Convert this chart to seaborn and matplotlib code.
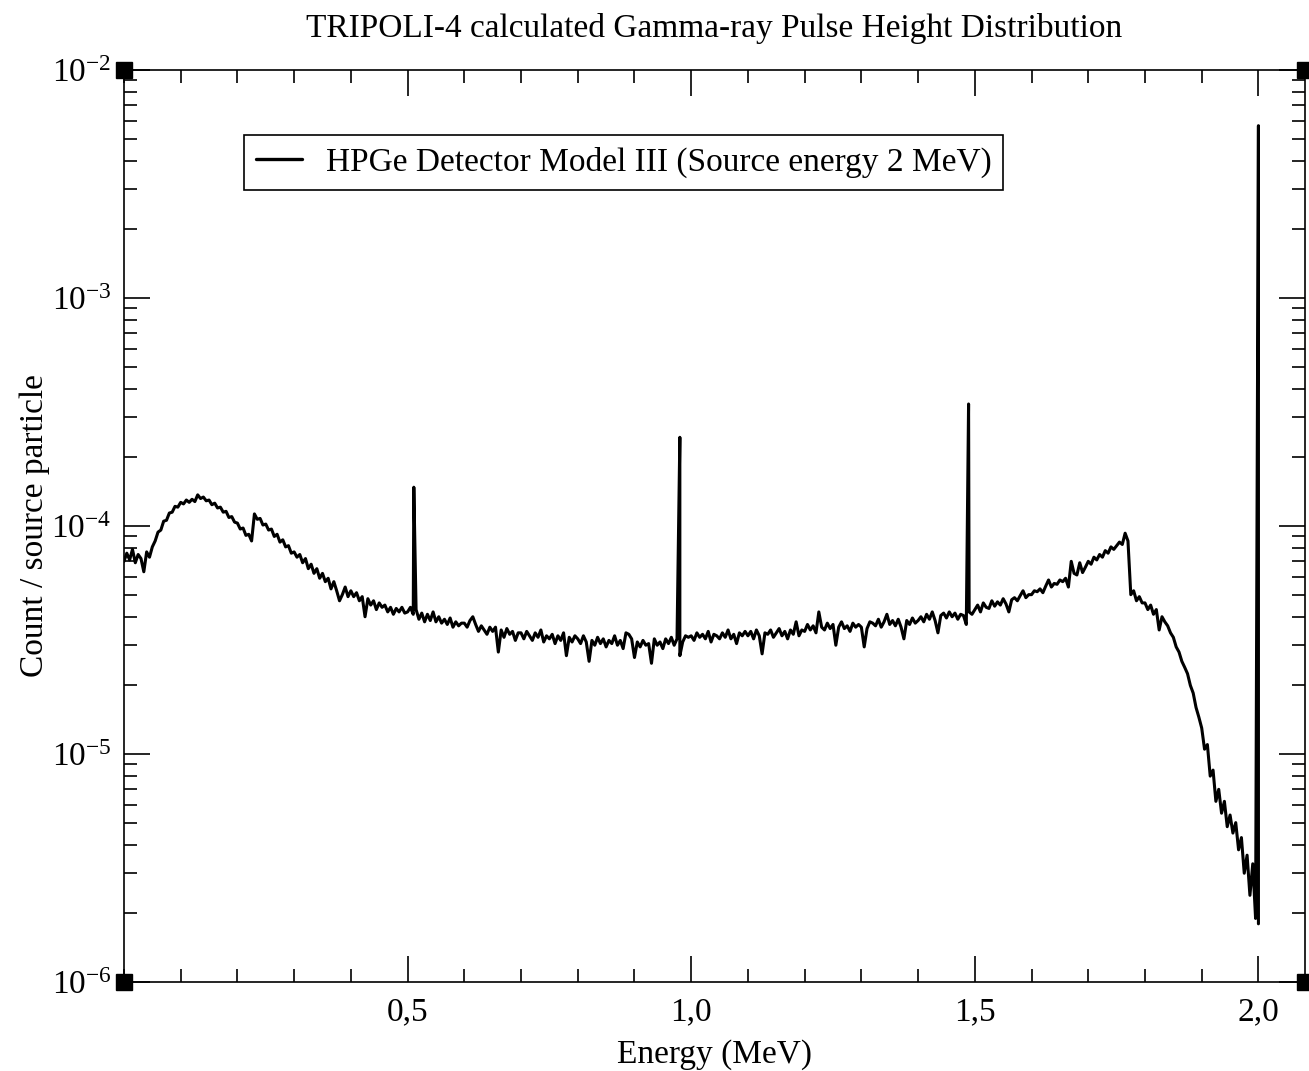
import numpy as np
import pandas as pd
import matplotlib
matplotlib.use("Agg")
import matplotlib.pyplot as plt
import seaborn as sns
from matplotlib.ticker import FixedLocator, FixedFormatter, MultipleLocator, LogLocator, NullFormatter

# ---------------- data ----------------
energy_step = 0.005  # MeV per channel of the tabulated continuum
# Continuum count per source particle, in units of 1e-5, every 5 keV from 0 to 2.0 MeV
count_e5 = [
    # 0.000 - 0.095
    7.0, 7.6, 7.1, 7.9, 6.9, 7.5, 7.2, 6.3, 7.7, 7.3, 8.1, 8.6, 9.4, 9.6, 10.5, 10.6, 11.4, 11.5, 12.2, 12.1,
    # 0.100 - 0.195
    12.7, 12.5, 13.0, 12.7, 13.1, 12.8, 13.7, 13.2, 13.4, 12.9, 13.0, 12.4, 12.6, 12.0, 12.1, 11.5, 11.6, 10.9, 11.0, 10.4,
    # 0.200 - 0.295
    10.3, 9.7, 9.8, 9.1, 9.2, 8.6, 11.3, 10.7, 10.8, 10.1, 10.2, 9.6, 9.7, 9.0, 9.2, 8.5, 8.7, 8.1, 8.2, 7.6,
    # 0.300 - 0.395
    7.7, 7.3, 7.5, 6.9, 7.2, 6.5, 6.8, 6.2, 6.5, 5.9, 6.2, 5.7, 5.9, 5.3, 5.7, 5.2, 4.7, 5.0, 5.4, 4.9,
    # 0.400 - 0.495
    5.2, 4.9, 5.1, 4.7, 4.9, 4.0, 4.8, 4.5, 4.7, 4.3, 4.6, 4.4, 4.5, 4.2, 4.4, 4.1, 4.35, 4.2, 4.4, 4.15,
    # 0.500 - 0.595
    4.2, 4.4, 4.1, 4.3, 3.9, 4.15, 3.8, 4.1, 3.85, 4.2, 3.8, 4.0, 3.75, 3.9, 3.7, 3.95, 3.6, 3.8, 3.65, 3.75,
    # 0.600 - 0.695
    3.75, 3.6, 3.85, 4.0, 3.7, 3.45, 3.65, 3.5, 3.35, 3.6, 3.45, 3.6, 2.8, 3.5, 3.25, 3.55, 3.35, 3.45, 3.15, 3.4,
    # 0.700 - 0.795
    3.4, 3.2, 3.45, 3.3, 3.15, 3.4, 3.25, 3.5, 3.1, 3.3, 3.2, 3.35, 3.05, 3.3, 3.15, 3.4, 2.7, 3.25, 3.1, 3.3,
    # 0.800 - 0.895
    3.2, 3.05, 3.3, 3.1, 2.55, 3.15, 3.0, 3.25, 3.05, 3.2, 2.95, 3.15, 3.05, 3.3, 3.0, 3.15, 2.9, 3.4, 3.35, 3.2,
    # 0.900 - 0.995
    2.65, 3.1, 2.95, 3.15, 3.0, 3.05, 2.5, 3.2, 3.0, 3.1, 2.9, 3.2, 3.05, 3.25, 3.0, 3.2, 2.7, 3.1, 3.3, 3.25,
    # 1.000 - 1.095
    3.3, 3.15, 3.4, 3.25, 3.35, 3.2, 3.45, 3.1, 3.35, 3.3, 3.2, 3.4, 3.25, 3.5, 3.2, 3.35, 3.05, 3.4, 3.3, 3.45,
    # 1.100 - 1.195
    3.3, 3.45, 3.2, 3.5, 3.3, 2.75, 3.4, 3.35, 3.5, 3.25, 3.4, 3.55, 3.3, 3.45, 3.2, 3.5, 3.35, 3.8, 3.3, 3.5,
    # 1.200 - 1.295
    3.45, 3.7, 3.5, 3.65, 3.4, 4.2, 3.6, 3.5, 3.75, 3.55, 3.7, 3.0, 3.6, 3.8, 3.55, 3.65, 3.45, 3.75, 3.6, 3.7,
    # 1.300 - 1.395
    3.6, 2.95, 3.55, 3.8, 3.75, 3.65, 3.9, 3.6, 3.8, 4.1, 3.7, 3.85, 3.65, 3.9, 3.6, 3.2, 3.85, 3.7, 3.95, 3.75,
    # 1.400 - 1.495
    3.85, 4.0, 3.8, 4.1, 3.9, 4.2, 3.85, 3.4, 4.05, 4.15, 3.95, 4.2, 4.0, 4.15, 3.9, 4.1, 4.05, 3.7, 4.2, 4.1,
    # 1.500 - 1.595
    4.3, 4.5, 4.2, 4.6, 4.4, 4.35, 4.7, 4.45, 4.65, 4.5, 4.8, 4.55, 4.2, 4.75, 4.85, 4.7, 4.95, 5.2, 4.85, 5.0,
    # 1.600 - 1.695
    5.0, 5.2, 5.15, 5.3, 5.1, 5.45, 5.8, 5.4, 5.6, 5.55, 5.8, 5.7, 5.9, 5.4, 7.0, 6.2, 6.1, 6.9, 6.25, 6.6,
    # 1.700 - 1.795
    7.0, 6.8, 7.3, 7.1, 7.5, 7.3, 7.8, 7.6, 8.1, 7.9, 8.2, 8.5, 8.3, 9.3, 8.6, 5.0, 5.2, 4.7, 4.9, 4.6,
    # 1.800 - 1.895
    4.6, 4.3, 4.5, 4.1, 4.3, 3.5, 4.0, 3.8, 3.65, 3.4, 3.25, 2.95, 2.8, 2.55, 2.4, 2.25, 2.0, 1.85, 1.6, 1.45,
    # 1.900 - 1.995
    1.3, 1.05, 1.1, 0.8, 0.85, 0.62, 0.7, 0.55, 0.62, 0.48, 0.54, 0.45, 0.5, 0.38, 0.43, 0.3, 0.36, 0.24, 0.33, 0.19,
    # 2.000
    0.18,
]

# Narrow peaks: annihilation (0.511), double escape, single escape, full energy
peak_energy = [0.511, 0.980, 1.489, 2.000]
peak_height = [1.48e-4, 2.45e-4, 3.43e-4, 5.7e-3]

series_label = "HPGe Detector Model III (Source energy 2 MeV)"
title_text = "TRIPOLI-4 calculated Gamma-ray Pulse Height Distribution"
x_label = "Energy (MeV)"
y_label = "Count / source particle"
xtick_values = [0.5, 1.0, 1.5, 2.0]
xtick_labels = ["0,5", "1,0", "1,5", "2,0"]
ytick_values = [1e-6, 1e-5, 1e-4, 1e-3, 1e-2]
ytick_labels = [r"$10^{-6}$", r"$10^{-5}$", r"$10^{-4}$", r"$10^{-3}$", r"$10^{-2}$"]

# ---------------- build series ----------------
energy = np.round(np.arange(len(count_e5)) * energy_step, 3)
counts = np.array(count_e5) * 1e-5
E = list(energy)
Y = list(counts)
for pe, ph in sorted(zip(peak_energy, peak_height), reverse=True):
    idx = int(np.searchsorted(energy, pe - 1e-9))
    E.insert(idx, pe)
    Y.insert(idx, ph)
df = pd.DataFrame({"Energy": E, "Count": Y})

# ---------------- style ----------------
sns.set_theme(style="ticks")
plt.rcParams["font.family"] = ["Liberation Serif", "DejaVu Serif"]
plt.rcParams["mathtext.fontset"] = "custom"
plt.rcParams["mathtext.rm"] = "Liberation Serif"
plt.rcParams["mathtext.it"] = "Liberation Serif:italic"
plt.rcParams["mathtext.bf"] = "Liberation Serif:bold"
plt.rcParams["text.color"] = "black"
plt.rcParams["axes.labelcolor"] = "black"
plt.rcParams["xtick.color"] = "black"
plt.rcParams["ytick.color"] = "black"
plt.rcParams["legend.labelcolor"] = "black"

fig = plt.figure(figsize=(13.09, 10.71), dpi=100)
fig.patch.set_facecolor("white")
ax = fig.add_axes([0.0947, 0.0831, 0.9022, 0.8515])
ax.set_facecolor("white")

sns.lineplot(data=df, x="Energy", y="Count", sort=False, estimator=None,
             color="black", linewidth=2.2, ax=ax, label=series_label)

ax.set_yscale("log")
ax.set_ylim(1e-6, 1e-2)
ax.set_xlim(0, 2.082)

ax.xaxis.set_major_locator(FixedLocator(xtick_values))
ax.xaxis.set_major_formatter(FixedFormatter(xtick_labels))
ax.xaxis.set_minor_locator(MultipleLocator(0.1))
ax.yaxis.set_major_locator(FixedLocator(ytick_values))
ax.yaxis.set_major_formatter(FixedFormatter(ytick_labels))
ax.yaxis.set_minor_locator(LogLocator(base=10, subs=np.arange(2, 10)))
ax.yaxis.set_minor_formatter(NullFormatter())

ax.tick_params(which="both", direction="in", top=True, right=True,
               width=1.2, color="black", labelcolor="black")
ax.tick_params(which="major", length=19, labelsize=24)
ax.tick_params(axis="x", which="major", pad=11)
ax.tick_params(axis="y", which="major", pad=9)
ax.tick_params(which="minor", length=9.5)
for s in ax.spines.values():
    s.set_linewidth(1.2)
    s.set_color("black")

ax.set_xlabel(x_label, fontsize=24, labelpad=8, color="black")
ax.set_ylabel(y_label, fontsize=24, labelpad=1, color="black")
ax.set_title(title_text, fontsize=24, pad=24, color="black")

# corner markers of the frame
ax.plot([0, 0, 1, 1], [0, 1, 0, 1], ls="none", marker="s", ms=11, color="black",
        transform=ax.transAxes, clip_on=False, zorder=5)

leg = ax.legend(loc="upper left", bbox_to_anchor=(0.1016, 0.9287), borderaxespad=0,
                fontsize=24, frameon=True, fancybox=False, framealpha=1,
                edgecolor="black", handlelength=1.4, handletextpad=0.7,
                borderpad=0.35)
leg.get_frame().set_linewidth(1.2)
for line in leg.get_lines():
    line.set_linewidth(2.4)
for t in leg.get_texts():
    t.set_color("black")

fig.savefig("out.png", dpi=100, facecolor="white")
